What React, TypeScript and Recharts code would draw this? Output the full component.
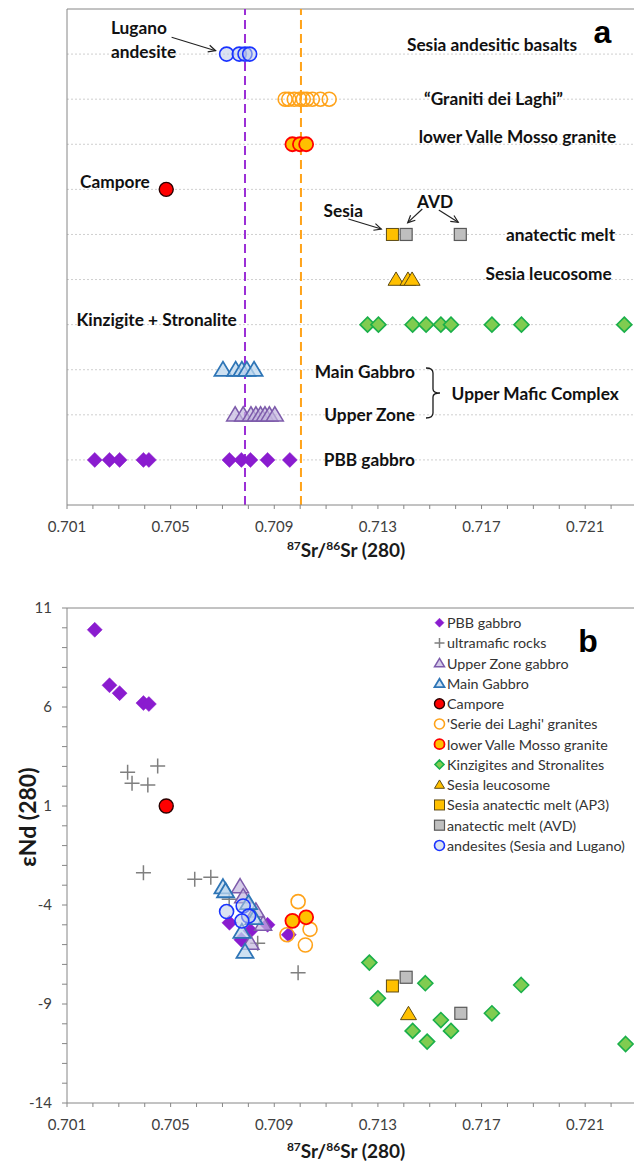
import React from 'react';
import { ScatterChart, Scatter, XAxis, YAxis, ReferenceLine, ReferenceDot, Legend } from 'recharts';

const FONT = 'Lato, "Open Sans", sans-serif';

// ---------- axes ----------
const X_TICKS = [0.701, 0.702, 0.703, 0.704, 0.705, 0.706, 0.707, 0.708, 0.709, 0.71, 0.711, 0.712, 0.713, 0.714, 0.715, 0.716, 0.717, 0.718, 0.719, 0.72, 0.721, 0.722, 0.723];
const X_LABELS = ['0.701', '0.705', '0.709', '0.713', '0.717', '0.721'];
const A_ROW_TICKS = [0, 1, 2, 3, 4, 5, 6, 7, 8, 9, 10, 11];
const A_GRID_ROWS = [1, 2, 3, 4, 5, 6, 7, 8, 9, 10];
const B_Y_TICKS = [-14, -13, -12, -11, -10, -9, -8, -7, -6, -5, -4, -3, -2, -1, 0, 1, 2, 3, 4, 5, 6, 7, 8, 9, 10, 11];
const B_Y_LABELS = [-14, -9, -4, 1, 6, 11];

// ---------- panel a : categories (rows from bottom) ----------
const A_CATEGORIES = ['PBB gabbro', 'Upper Zone', 'Main Gabbro', 'Kinzigite + Stronalite', 'Sesia leucosome', 'anatectic melt', 'Campore', 'lower Valle Mosso granite', 'Graniti dei Laghi', 'Sesia andesitic basalts'];

// panel a 87Sr/86Sr values per row
const A_ANDESITE = [0.70716, 0.70765, 0.70787, 0.70805];
const A_GRANITI = [0.70942, 0.70956, 0.70977, 0.70998, 0.71012, 0.71026, 0.71047, 0.71078, 0.71112];
const A_LOWER_VM = [0.7097, 0.70999, 0.71023];
const A_CAMPORE = [0.70483];
const A_AP3 = [0.71356];
const A_AVD = [0.71409, 0.71618];
const A_LEUCO = [0.7137, 0.71416, 0.71432];
const A_KINZ = [0.7126, 0.71302, 0.71434, 0.71486, 0.71543, 0.71582, 0.7174, 0.71854, 0.72251];
const A_MAIN = [0.70702, 0.70751, 0.70775, 0.70794, 0.70822];
const A_UPPER = [0.70749, 0.7078, 0.7081, 0.70829, 0.70847, 0.70864, 0.70881, 0.70902];
const A_PBB = [0.70207, 0.70264, 0.70303, 0.70395, 0.70416, 0.70727, 0.70773, 0.70808, 0.70874, 0.7096];

const A_REF_PURPLE = 0.70787;
const A_REF_ORANGE = 0.71003;

// panel a annotations
const A_TEXTS = [
  { t: 'Sesia andesitic basalts', x: 0.717403, y: 10.202, a: 'middle' },
  { t: '\u201CGraniti dei Laghi\u201D', x: 0.717461, y: 9.02, a: 'middle' },
  { t: 'lower Valle Mosso granite', x: 0.718388, y: 8.168, a: 'middle' },
  { t: 'Lugano', x: 0.702698, y: 10.579, a: 'start' },
  { t: 'andesite', x: 0.702698, y: 10.047, a: 'start' },
  { t: 'Campore', x: 0.701502, y: 7.17, a: 'start' },
  { t: 'Sesia', x: 0.7109, y: 6.527, a: 'start' },
  { t: 'AVD', x: 0.714509, y: 6.727, a: 'start' },
  { t: 'anatectic melt', x: 0.720047, y: 5.988, a: 'middle' },
  { t: 'Sesia leucosome', x: 0.719588, y: 5.139, a: 'middle' },
  { t: 'Kinzigite + Stronalite', x: 0.701367, y: 4.118, a: 'start' },
  { t: 'Main Gabbro', x: 0.714432, y: 2.956, a: 'end' },
  { t: 'Upper Zone', x: 0.714432, y: 1.996, a: 'end' },
  { t: 'PBB gabbro', x: 0.714432, y: 1.014, a: 'end' },
  { t: 'Upper Mafic Complex', x: 0.715844, y: 2.477, a: 'start' },
];
const A_ARROWS = [
  [{ x: 0.705037, y: 10.373 }, { x: 0.706735, y: 10.075 }],
  [{ x: 0.711861, y: 6.343 }, { x: 0.713131, y: 6.121 }],
  [{ x: 0.714713, y: 6.565 }, { x: 0.71415, y: 6.261 }],
  [{ x: 0.71535, y: 6.543 }, { x: 0.716099, y: 6.27 }],
];
const A_BRACE = { x: 0.715126, y: 2.484 };

// ---------- panel b : 87Sr/86Sr (x) and eNd (y) ----------
const B_PBB_X = [0.70207, 0.70264, 0.70303, 0.70395, 0.70416, 0.70727, 0.70773, 0.70808, 0.70874, 0.70956];
const B_PBB_Y = [9.9, 7.1, 6.7, 6.2, 6.15, -4.9, -5.75, -5.3, -5.0, -5.5];
const B_ULTRA_X = [0.70334, 0.70351, 0.70412, 0.7045, 0.70395, 0.70593, 0.70655, 0.70726, 0.70836, 0.70992];
const B_ULTRA_Y = [2.7, 2.15, 2.06, 3.02, -2.37, -2.7, -2.6, -3.71, -5.93, -7.42];
const B_UPPER_X = [0.70768, 0.7078, 0.70829, 0.70857, 0.70808];
const B_UPPER_Y = [-3.07, -3.58, -4.3, -4.96, -5.93];
const B_MAIN_X = [0.70702, 0.70712, 0.70801, 0.70822, 0.70775, 0.70787];
const B_MAIN_Y = [-3.1, -3.3, -3.9, -4.66, -5.35, -6.36];
const B_CAMPORE_X = [0.70483];
const B_CAMPORE_Y = [1.0];
const B_LAGHI_X = [0.70992, 0.70949, 0.71038, 0.7102];
const B_LAGHI_Y = [-3.83, -5.5, -5.23, -6.02];
const B_LOWER_VM_X = [0.7097, 0.71023];
const B_LOWER_VM_Y = [-4.8, -4.62];
const B_KINZ_X = [0.71267, 0.71483, 0.71853, 0.713, 0.7174, 0.71543, 0.71434, 0.71582, 0.7149, 0.72256];
const B_KINZ_Y = [-6.91, -7.95, -8.04, -8.71, -9.47, -9.81, -10.36, -10.36, -10.9, -11.02];
const B_LEUCO_X = [0.71418];
const B_LEUCO_Y = [-9.5];
const B_AP3_X = [0.71356];
const B_AP3_Y = [-8.09];
const B_AVD_X = [0.71409, 0.7162];
const B_AVD_Y = [-7.65, -9.47];
const B_ANDESITE_X = [0.70716, 0.7078, 0.70801, 0.70775];
const B_ANDESITE_Y = [-4.33, -4.05, -4.56, -4.81];

// ---------- marker styles ----------
type Kind = 'diamond' | 'plus' | 'triangle' | 'circle' | 'square';
type MK = { kind: Kind; fill: string; stroke: string; sw: number; size: number; fo?: number };

const ST: Record<string, MK> = {
  pbb: { kind: 'diamond', fill: '#8a1ccf', stroke: '#8a1ccf', sw: 0.5, size: 15 },
  ultra: { kind: 'plus', fill: 'none', stroke: '#7f7f7f', sw: 1.5, size: 15 },
  upper: { kind: 'triangle', fill: '#c3b6de', stroke: '#7d5bab', sw: 1.5, size: 17, fo: 0.7 },
  main: { kind: 'triangle', fill: '#bdd7ee', stroke: '#2e75b6', sw: 1.8, size: 17, fo: 0.75 },
  campore: { kind: 'circle', fill: '#ff0000', stroke: '#2a0000', sw: 1.4, size: 14 },
  laghi: { kind: 'circle', fill: '#ffffff', stroke: '#ffa31a', sw: 1.6, size: 14, fo: 0 },
  lowervm: { kind: 'circle', fill: '#ffc000', stroke: '#ff0000', sw: 1.8, size: 14 },
  kinz: { kind: 'diamond', fill: '#80cc50', stroke: '#1aaf4a', sw: 1.6, size: 15 },
  leuco: { kind: 'triangle', fill: '#ffc000', stroke: '#5e4b14', sw: 1, size: 16 },
  ap3: { kind: 'square', fill: '#ffc000', stroke: '#5e4b14', sw: 1, size: 12 },
  avd: { kind: 'square', fill: '#bfbfbf', stroke: '#595959', sw: 1.2, size: 12 },
  andesite: { kind: 'circle', fill: '#bccbe8', stroke: '#1a33ff', sw: 1.6, size: 14, fo: 0.55 },
};

const LEGEND_ITEMS = [
  { label: 'PBB gabbro', st: ST.pbb },
  { label: 'ultramafic rocks', st: ST.ultra },
  { label: 'Upper Zone gabbro', st: ST.upper },
  { label: 'Main Gabbro', st: ST.main },
  { label: 'Campore', st: ST.campore },
  { label: "'Serie dei Laghi' granites", st: ST.laghi },
  { label: 'lower Valle Mosso granite', st: ST.lowervm },
  { label: 'Kinzigites and Stronalites', st: ST.kinz },
  { label: 'Sesia leucosome', st: ST.leuco },
  { label: 'Sesia anatectic melt (AP3)', st: ST.ap3 },
  { label: 'anatectic melt (AVD)', st: ST.avd },
  { label: 'andesites (Sesia and Lugano)', st: ST.andesite },
];

function drawMarker(m: MK, cx: number, cy: number, s: number = m.size, key?: any) {
  const h = s / 2;
  const common = { fill: m.fill, fillOpacity: m.fo === undefined ? 1 : m.fo, stroke: m.stroke, strokeWidth: m.sw };
  switch (m.kind) {
    case 'diamond':
      return <polygon key={key} points={`${cx},${cy - h} ${cx + h},${cy} ${cx},${cy + h} ${cx - h},${cy}`} {...common} />;
    case 'plus':
      return <path key={key} d={`M${cx - h},${cy}H${cx + h}M${cx},${cy - h}V${cy + h}`} stroke={m.stroke} strokeWidth={m.sw} fill="none" />;
    case 'triangle':
      return <polygon key={key} points={`${cx},${cy - h * 0.95} ${cx + h},${cy + h * 0.72} ${cx - h},${cy + h * 0.72}`} {...common} strokeLinejoin="miter" />;
    case 'circle':
      return <circle key={key} cx={cx} cy={cy} r={h} {...common} />;
    case 'square':
    default:
      return <rect key={key} x={cx - h} y={cy - h} width={s} height={s} {...common} />;
  }
}

const shapeOf = (m: MK) => (p: any) => drawMarker(m, p.cx, p.cy);

const rowOf = (name: string) => A_CATEGORIES.indexOf(name) + 1;
const rowData = (xs: number[], name: string) => xs.map((x) => ({ x, y: rowOf(name) }));
const pairData = (xs: number[], ys: number[]) => xs.map((x, i) => ({ x, y: ys[i] }));

const fmtX = (v: number) => {
  const s = Number(v).toFixed(3);
  return X_LABELS.includes(s) ? s : '';
};
const fmtYB = (v: number) => (B_Y_LABELS.includes(Math.round(v)) ? String(Math.round(v)) : '');

const AXIS = '#868686';
const TICK_STYLE = { fill: '#404040', fontSize: 15, fontFamily: FONT };

function arrowShape(p: any) {
  const { x1, y1, x2, y2 } = p;
  const ang = Math.atan2(y2 - y1, x2 - x1);
  const L = 8;
  const sp = 0.45;
  const ax = x2 - L * Math.cos(ang - sp);
  const ay = y2 - L * Math.sin(ang - sp);
  const bx = x2 - L * Math.cos(ang + sp);
  const by = y2 - L * Math.sin(ang + sp);
  return (
    <g>
      <line x1={x1} y1={y1} x2={x2} y2={y2} stroke="#222" strokeWidth={1.2} />
      <path d={`M${ax},${ay}L${x2},${y2}L${bx},${by}`} stroke="#222" strokeWidth={1.2} fill="none" />
    </g>
  );
}

function XTitle(cx: number, cy: number) {
  return (
    <text x={cx} y={cy} textAnchor="middle" fontFamily={FONT} fontWeight={700} fontSize={19} fill="#1a1a1a">
      <tspan fontSize={12} dy={-7}>87</tspan>
      <tspan dy={7}>Sr/</tspan>
      <tspan fontSize={12} dy={-7}>86</tspan>
      <tspan dy={7}>Sr (280)</tspan>
    </text>
  );
}

function LegendBox() {
  return (
    <svg width={210} height={250}>
      {LEGEND_ITEMS.map((e, i) => {
        const cy = 10.7 + i * 20.25;
        return (
          <g key={i}>
            {drawMarker(e.st, 9.5, cy, e.st.kind === 'diamond' ? 9 : 10)}
            <text x={17} y={cy} dominantBaseline="central" fontFamily={FONT} fontSize={14.3} fill="#333">
              {e.label}
            </text>
          </g>
        );
      })}
    </svg>
  );
}

const textShape = (t: { t: string; a: string }) => (p: any) => (
  <text x={p.cx} y={p.cy} textAnchor={t.a as any} dominantBaseline="central" fontFamily={FONT}
    fontWeight={700} fontSize={17.3} fill="#111">{t.t}</text>
);

const TITLE_X = 0.71177;

function PanelA() {
  return (
    <ScatterChart width={640} height={575} margin={{ top: 9, right: 3, bottom: 40, left: 7 }}>
      <XAxis type="number" dataKey="x" domain={[0.701, 0.723]} ticks={X_TICKS} interval={0} tickFormatter={fmtX}
        height={30} tickSize={4} tickMargin={12} tick={TICK_STYLE} axisLine={{ stroke: AXIS }} tickLine={{ stroke: AXIS }} allowDataOverflow />
      <YAxis type="number" dataKey="y" domain={[0, 11]} ticks={A_ROW_TICKS} interval={0} tick={false} tickLine={false}
        width={60} axisLine={{ stroke: AXIS }} allowDataOverflow />
      {A_GRID_ROWS.map((r) => (
        <ReferenceLine key={'g' + r} y={r} stroke="#cfcfcf" strokeDasharray="2 2" />
      ))}
      <ReferenceLine y={11} stroke={AXIS} />
      <ReferenceLine x={0.723} stroke={AXIS} />

      <Scatter data={rowData(A_PBB, 'PBB gabbro')} shape={shapeOf(ST.pbb)} isAnimationActive={false} />
      <Scatter data={rowData(A_UPPER, 'Upper Zone')} shape={shapeOf(ST.upper)} isAnimationActive={false} />
      <Scatter data={rowData(A_MAIN, 'Main Gabbro')} shape={shapeOf(ST.main)} isAnimationActive={false} />
      <Scatter data={rowData(A_CAMPORE, 'Campore')} shape={shapeOf(ST.campore)} isAnimationActive={false} />
      <Scatter data={rowData(A_GRANITI, 'Graniti dei Laghi')} shape={shapeOf(ST.laghi)} isAnimationActive={false} />
      <Scatter data={rowData(A_LOWER_VM, 'lower Valle Mosso granite')} shape={shapeOf(ST.lowervm)} isAnimationActive={false} />
      <Scatter data={rowData(A_KINZ, 'Kinzigite + Stronalite')} shape={shapeOf(ST.kinz)} isAnimationActive={false} />
      <Scatter data={rowData(A_LEUCO, 'Sesia leucosome')} shape={shapeOf(ST.leuco)} isAnimationActive={false} />
      <Scatter data={rowData(A_AP3, 'anatectic melt')} shape={shapeOf(ST.ap3)} isAnimationActive={false} />
      <Scatter data={rowData(A_AVD, 'anatectic melt')} shape={shapeOf(ST.avd)} isAnimationActive={false} />
      <Scatter data={rowData(A_ANDESITE, 'Sesia andesitic basalts')} shape={shapeOf(ST.andesite)} isAnimationActive={false} />

      <ReferenceLine x={A_REF_PURPLE} stroke="#9b2fd6" strokeWidth={2} strokeDasharray="9 5" />
      <ReferenceLine x={A_REF_ORANGE} stroke="#ffa31a" strokeWidth={2} strokeDasharray="9 5" />

      {A_ARROWS.map((seg, i) => (
        <ReferenceLine key={'ar' + i} segment={seg} shape={arrowShape} ifOverflow="visible" />
      ))}
      {A_TEXTS.map((t, i) => (
        <ReferenceDot key={'t' + i} x={t.x} y={t.y} r={0} ifOverflow="visible" shape={textShape(t)} />
      ))}
      <ReferenceDot x={A_BRACE.x} y={A_BRACE.y} r={0} ifOverflow="visible"
        shape={(p: any) => {
          const { cx, cy } = p;
          return (
            <path d={`M${cx - 7},${cy - 25} Q${cx},${cy - 25} ${cx},${cy - 20} V${cy - 4} Q${cx},${cy} ${cx + 7},${cy} Q${cx},${cy} ${cx},${cy + 4} V${cy + 20} Q${cx},${cy + 25} ${cx - 7},${cy + 25}`}
              stroke="#1a1a1a" strokeWidth={1.3} fill="none" />
          );
        }} />
      <ReferenceDot x={0.721668} y={10.246} r={0} ifOverflow="visible"
        shape={(p: any) => (
          <text x={p.cx} y={p.cy} textAnchor="middle" fontFamily='"Liberation Sans", Arial, sans-serif' fontWeight={700} fontSize={32} fill="#000">a</text>
        )} />
      <ReferenceDot x={TITLE_X} y={0} r={0} ifOverflow="visible" shape={(p: any) => XTitle(p.cx, p.cy + 52)} />
    </ScatterChart>
  );
}

function PanelB() {
  return (
    <ScatterChart width={640} height={606} margin={{ top: 48, right: 3, bottom: 33, left: 7 }}>
      <XAxis type="number" dataKey="x" domain={[0.701, 0.723]} ticks={X_TICKS} interval={0} tickFormatter={fmtX}
        height={30} tickSize={4} tickMargin={12} tick={TICK_STYLE} axisLine={{ stroke: AXIS }} tickLine={{ stroke: AXIS }} allowDataOverflow />
      <YAxis type="number" dataKey="y" domain={[-14, 11]} ticks={B_Y_TICKS} interval={0} tickFormatter={fmtYB}
        width={60} tickSize={5} tickMargin={10} tick={TICK_STYLE} axisLine={{ stroke: AXIS }} tickLine={{ stroke: AXIS }} allowDataOverflow />
      <ReferenceLine y={11} stroke={AXIS} />
      <ReferenceLine x={0.723} stroke={AXIS} />

      <Scatter data={pairData(B_PBB_X, B_PBB_Y)} shape={shapeOf(ST.pbb)} isAnimationActive={false} />
      <Scatter data={pairData(B_ULTRA_X, B_ULTRA_Y)} shape={shapeOf(ST.ultra)} isAnimationActive={false} />
      <Scatter data={pairData(B_UPPER_X, B_UPPER_Y)} shape={shapeOf(ST.upper)} isAnimationActive={false} />
      <Scatter data={pairData(B_MAIN_X, B_MAIN_Y)} shape={shapeOf(ST.main)} isAnimationActive={false} />
      <Scatter data={pairData(B_CAMPORE_X, B_CAMPORE_Y)} shape={shapeOf(ST.campore)} isAnimationActive={false} />
      <Scatter data={pairData(B_LAGHI_X, B_LAGHI_Y)} shape={shapeOf(ST.laghi)} isAnimationActive={false} />
      <Scatter data={pairData(B_LOWER_VM_X, B_LOWER_VM_Y)} shape={shapeOf(ST.lowervm)} isAnimationActive={false} />
      <Scatter data={pairData(B_KINZ_X, B_KINZ_Y)} shape={shapeOf(ST.kinz)} isAnimationActive={false} />
      <Scatter data={pairData(B_LEUCO_X, B_LEUCO_Y)} shape={shapeOf(ST.leuco)} isAnimationActive={false} />
      <Scatter data={pairData(B_AP3_X, B_AP3_Y)} shape={shapeOf(ST.ap3)} isAnimationActive={false} />
      <Scatter data={pairData(B_AVD_X, B_AVD_Y)} shape={shapeOf(ST.avd)} isAnimationActive={false} />
      <Scatter data={pairData(B_ANDESITE_X, B_ANDESITE_Y)} shape={shapeOf(ST.andesite)} isAnimationActive={false} />

      <Legend layout="vertical" align="center" verticalAlign="middle" content={() => <LegendBox />}
        wrapperStyle={{ position: 'absolute', left: 430, top: 52, width: 210, height: 250 }} />

      <ReferenceDot x={0.721112} y={8.793} r={0} ifOverflow="visible"
        shape={(p: any) => (
          <text x={p.cx} y={p.cy} textAnchor="middle" fontFamily='"Liberation Sans", Arial, sans-serif' fontWeight={700} fontSize={32} fill="#000">b</text>
        )} />
      <ReferenceDot x={TITLE_X} y={-14} r={0} ifOverflow="visible" shape={(p: any) => XTitle(p.cx, p.cy + 55)} />
      <ReferenceDot x={0.701} y={0.44} r={0} ifOverflow="visible"
        shape={(p: any) => (
          <text x={p.cx - 40} y={p.cy} transform={`rotate(-90 ${p.cx - 40} ${p.cy})`} textAnchor="middle" dominantBaseline="central"
            fontFamily={FONT} fontWeight={700} fontSize={23} fill="#1a1a1a">εNd (280)</text>
        )} />
    </ScatterChart>
  );
}

export default function App() {
  return (
    <div style={{ position: 'absolute', left: 0, top: 0, width: 634, height: 1166, overflow: 'hidden', background: '#fff' }}>
      <div style={{ position: 'absolute', left: 0, top: 0 }}>
        <PanelA />
      </div>
      <div style={{ position: 'absolute', left: 0, top: 560 }}>
        <PanelB />
      </div>
    </div>
  );
}
